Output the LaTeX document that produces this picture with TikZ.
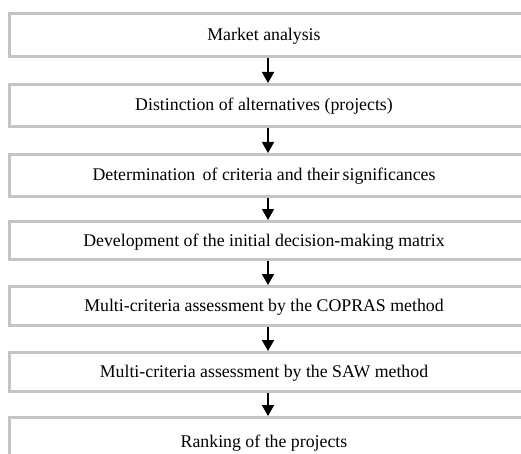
\documentclass[tikz,border=0pt]{standalone}
\usepackage{fontspec}
\setmainfont{Liberation Serif}
\usetikzlibrary{arrows.meta}
\definecolor{boxgray}{HTML}{C4C4C4}
\tikzset{
  stagebox/.style={draw=boxgray, line width=2.8pt, fill=white},
  stagetext/.style={font=\fontsize{17.8}{21}\selectfont, inner sep=0pt, anchor=base},
  flowarrow/.style={draw=black, line width=1.6pt, -{Triangle[length=11pt,width=12pt]}}
}
\begin{document}
\begin{tikzpicture}[x=1pt,y=-1pt]
\useasboundingbox (0,0) rectangle (521,454);
\begin{scope}
\clip (0,0) rectangle (521,454);
% boxes: top, bottom
\foreach \i/\t/\b in {1/12/58, 2/83/128, 3/153/198, 4/220/261, 5/285/327, 6/351/393, 7/416/468}{
  \path[stagebox] (9.4,\t+1.4) rectangle (540,\b-1.4);
  \coordinate (top\i) at (268,\t);
  \coordinate (bot\i) at (268,\b);
}
\node[stagetext] (t1) at (264,40.5) {Market analysis};
\node[stagetext] (t2) at (264,111) {Distinction of alternatives (projects)};
\node[stagetext] (t3) at (264,181) {Determination\, of criteria and their\,significances};
\node[stagetext] (t4) at (264,246) {Development of the initial decision-making matrix};
\node[stagetext] (t5) at (264,311.5) {Multi-criteria assessment by the COPRAS method};
\node[stagetext] (t6) at (264,377.5) {Multi-criteria assessment by the SAW method};
\node[stagetext] (t7) at (264,447) {Ranking of the projects};
\foreach \a/\b in {1/2,2/3,3/4,4/5,5/6,6/7}{
  \draw[flowarrow] (bot\a) -- (top\b);
}
\end{scope}
\end{tikzpicture}
\end{document}
